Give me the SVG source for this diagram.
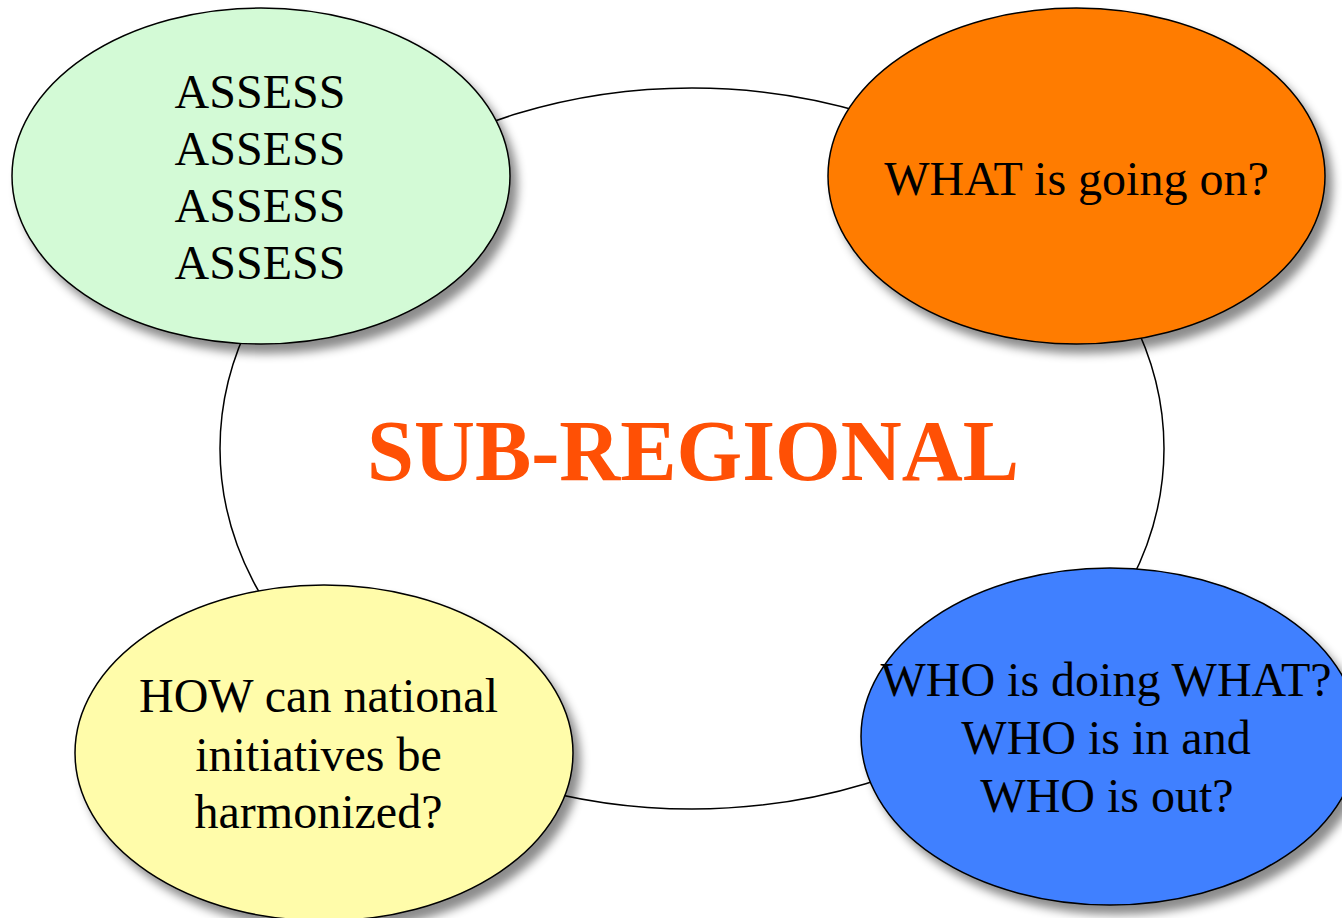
<svg xmlns="http://www.w3.org/2000/svg" width="1342" height="918" viewBox="0 0 1342 918">
  <style>
    .bubble { stroke: #000; stroke-width: 1.5; filter: url(#shadow); }
    .lbl { font-family: "Liberation Serif", "Times New Roman", serif; font-size: 48px; fill: #000; text-anchor: middle; }
    .title { font-family: "Liberation Serif", "Times New Roman", serif; font-size: 86px; font-weight: bold; fill: #FF5005; text-anchor: middle; }
  </style>
  <defs>
    <filter id="shadow" x="-10%" y="-10%" width="130%" height="135%">
      <feDropShadow dx="7" dy="9" stdDeviation="5" flood-color="#000" flood-opacity="0.45"/>
    </filter>
  </defs>
  <rect width="1342" height="918" fill="#fff"/>
  <g id="connectors">
    <ellipse id="ring" cx="692" cy="448.5" rx="472" ry="360.5" fill="#fff" stroke="#000" stroke-width="1.5"/>
  </g>
  <g id="node-center">
    <text class="title" x="693" y="480" textLength="652" lengthAdjust="spacingAndGlyphs">SUB-REGIONAL</text>
  </g>
  <g id="node-assess">
    <ellipse class="bubble" cx="261" cy="176" rx="249" ry="168" fill="#D3FAD6"/>
    <text class="lbl" x="260" y="108">ASSESS</text>
    <text class="lbl" x="260" y="165">ASSESS</text>
    <text class="lbl" x="260" y="222">ASSESS</text>
    <text class="lbl" x="260" y="279">ASSESS</text>
  </g>
  <g id="node-what">
    <ellipse class="bubble" cx="1076.5" cy="176" rx="248.5" ry="168" fill="#FF7C00"/>
    <text class="lbl" x="1076.5" y="195">WHAT is going on?</text>
  </g>
  <g id="node-how">
    <ellipse class="bubble" cx="324" cy="753" rx="249" ry="168" fill="#FFFCAA"/>
    <text class="lbl" x="318.5" y="712">HOW can national</text>
    <text class="lbl" x="318.5" y="771">initiatives be</text>
    <text class="lbl" x="318.5" y="828">harmonized?</text>
  </g>
  <g id="node-who">
    <ellipse class="bubble" cx="1110" cy="736.5" rx="249" ry="168.5" fill="#4080FF"/>
    <text class="lbl" x="1106" y="696">WHO is doing WHAT?</text>
    <text class="lbl" x="1106" y="754">WHO is in and</text>
    <text class="lbl" x="1107" y="812">WHO is out?</text>
  </g>
</svg>
